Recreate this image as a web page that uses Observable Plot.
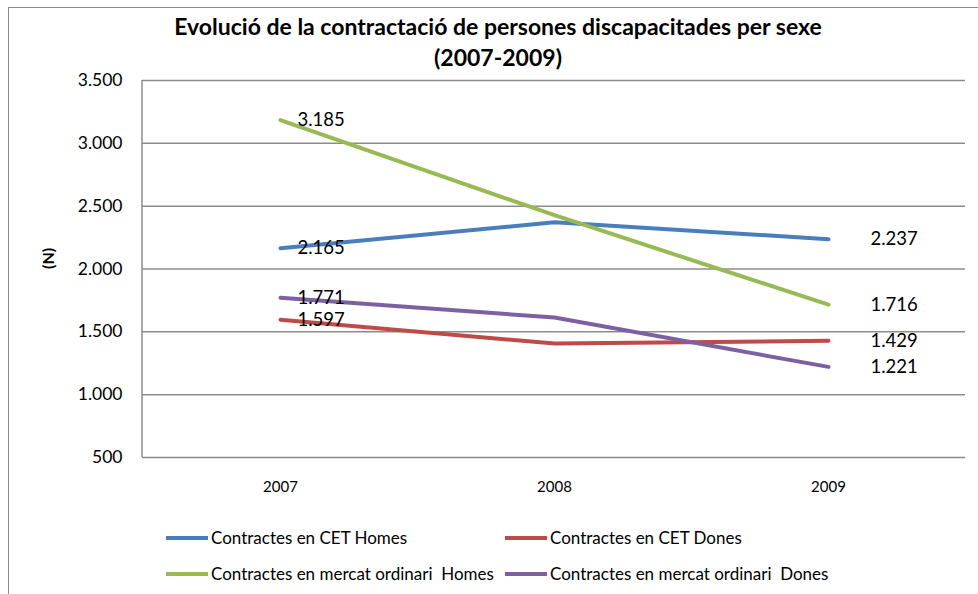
<!DOCTYPE html>
<html>
<head>
<meta charset="utf-8">
<script src="https://cdn.jsdelivr.net/npm/d3@7"></script>
<script src="https://cdn.jsdelivr.net/npm/@observablehq/plot@0.6"></script>
<style>
  html, body { margin: 0; padding: 0; background: #fff; }
  #wrap { position: relative; width: 978px; height: 594px; overflow: hidden; font-family: Lato, "Open Sans", sans-serif; color: #000; }
  #frame { position: absolute; left: 8px; top: 7px; width: 990px; height: 700px; border-left: 1.5px solid #8c8c8c; border-top: 1.5px solid #8c8c8c; }
  #title { position: absolute; left: 0; width: 996px; top: 11px; text-align: center; font-weight: bold; font-size: 23px; line-height: 31px; }
  #chart { position: absolute; left: 0; top: 0; }
  .leg { position: absolute; font-size: 17px; line-height: 20px; white-space: pre; display: flex; align-items: center; }
  .leg span.sw { display: inline-block; width: 42px; height: 3.5px; margin-right: 3px; }
</style>
</head>
<body>
<div id="wrap">
  <div id="frame"></div>
  <div id="chart"></div>
  <div id="title">Evolució de la contractació de persones discapacitades per sexe<br>(2007-2009)</div>
  <div id="legend"></div>
</div>
<script>
const years = ["2007", "2008", "2009"];
const seriesNames = [
  "Contractes en CET Homes",
  "Contractes en CET Dones",
  "Contractes en mercat ordinari  Homes",
  "Contractes en mercat ordinari  Dones"
];
const cetHomes = [2165, 2372, 2237];
const cetDones = [1597, 1407, 1429];
const mercatHomes = [3185, 2428, 1716];
const mercatDones = [1771, 1614, 1221];
const colors = ["#4a7ebb", "#be4b48", "#98b954", "#7d60a0"];
const yTicks = [500, 1000, 1500, 2000, 2500, 3000, 3500];
const labelledYears = ["2007", "2009"];

const seriesValues = [cetHomes, cetDones, mercatHomes, mercatDones];
const rows = [];
seriesNames.forEach((name, i) => {
  years.forEach((yr, j) => rows.push({series: name, year: yr, value: seriesValues[i][j]}));
});

const fmt = d => d3.format(",")(d).replace(/,/g, ".");

const chart = Plot.plot({
  width: 978,
  height: 594,
  marginLeft: 142,
  marginRight: 13,
  marginTop: 80,
  marginBottom: 137,
  style: {fontFamily: "Lato, 'Open Sans', sans-serif", background: "transparent", overflow: "visible"},
  x: {type: "point", domain: years, padding: 0.5, label: null},
  y: {domain: [500, 3500], label: null},
  color: {domain: seriesNames, range: colors},
  marks: [
    Plot.ruleY(yTicks, {stroke: "#8c8c8c", strokeWidth: 1.5}),
    Plot.axisY({ticks: yTicks, tickFormat: fmt, tickSize: 0, tickPadding: 20, fontSize: 17.5, label: null}),
    Plot.axisX({tickSize: 0, tickPadding: 24, fontSize: 15, label: null}),
    Plot.text(["(N)"], {frameAnchor: "left", dx: -94, rotate: -90, fontWeight: "bold", fontSize: 16}),
    Plot.line(rows, {x: "year", y: "value", z: "series", stroke: "series", strokeWidth: 4, strokeLinecap: "round", strokeLinejoin: "round"}),
    Plot.text(rows.filter(d => d.year === labelledYears[0]), {x: "year", y: "value", text: d => fmt(d.value), textAnchor: "start", dx: 17, fontSize: 18.5}),
    Plot.text(rows.filter(d => d.year === labelledYears[1]), {x: "year", y: "value", text: d => fmt(d.value), textAnchor: "start", dx: 42, fontSize: 18.5})
  ]
});
document.getElementById("chart").appendChild(chart);

// left axis line, positioned through the y scale
const svg = d3.select(chart);
const ys = chart.scale("y");
svg.append("line").attr("x1", 142).attr("x2", 142).attr("y1", ys.apply(3500)).attr("y2", ys.apply(500)).attr("stroke", "#8c8c8c").attr("stroke-width", 1.5);

// legend
const legPos = [[166, 528], [505, 528], [166, 564], [505, 564]];
const legend = document.getElementById("legend");
seriesNames.forEach((name, i) => {
  const d = document.createElement("div");
  d.className = "leg";
  d.style.left = legPos[i][0] + "px";
  d.style.top = legPos[i][1] + "px";
  d.innerHTML = `<span class="sw" style="background:${colors[i]}"></span>${name}`;
  legend.appendChild(d);
});
</script>
</body>
</html>
